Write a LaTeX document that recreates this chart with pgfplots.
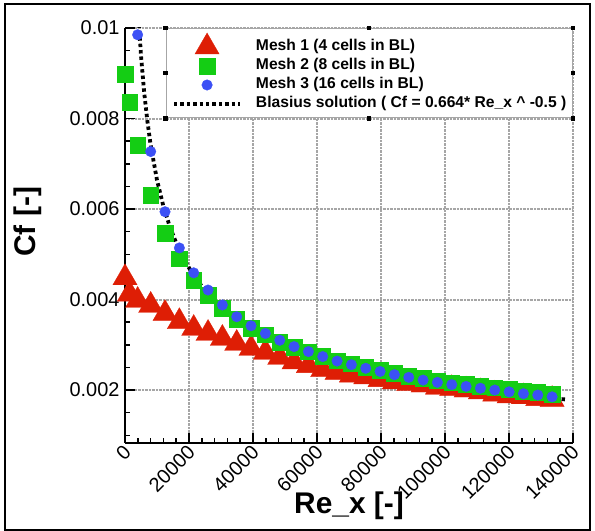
\documentclass[border=0pt]{standalone}
\usepackage{pgfplots}
\pgfplotsset{compat=1.18}
\usepackage{fontspec}
\setmainfont{Liberation Sans}
\definecolor{mred}{RGB}{222,30,5}
\definecolor{mgreen}{RGB}{20,205,20}
\definecolor{mblue}{RGB}{60,80,245}
\begin{document}
\begin{tikzpicture}[x=1bp,y=1bp]
\useasboundingbox (0,0) rectangle (595,531);
\draw[line width=1.5bp] (5,1) rectangle (590,527);
\begin{axis}[
  at={(125bp,88bp)}, anchor=south west,
  scale only axis, width=448bp, height=415bp,
  xmin=0, xmax=140000, ymin=0.00083, ymax=0.01,
  scaled x ticks=false, scaled y ticks=false,
  axis x line*=bottom, axis y line*=left,
  axis line style={-, line width=2.2bp},
  tick align=inside,
  xtick={0,20000,40000,60000,80000,100000,120000,140000},
  xticklabels={0,20000,40000,60000,80000,100000,120000,140000},
  minor x tick num=4,
  ytick={0.002,0.004,0.006,0.008,0.01},
  yticklabels={0.002,0.004,0.006,0.008,0.01},
  minor ytick={0.001,0.0015,0.0025,0.003,0.0035,0.0045,0.005,0.0055,0.0065,0.007,0.0075,0.0085,0.009,0.0095},
  major tick length=10bp, minor tick length=5bp,
  every tick/.style={black, line width=1.5bp},
  xmajorgrids, ymajorgrids,
  grid style={gray!70, line width=2bp, dash pattern=on 0.7bp off 0.7bp},
  /pgf/number format/assume math mode=true,
  yticklabel style={font=\fontsize{20}{24}\selectfont, xshift=-2bp},
  xticklabel style={font=\fontsize{20}{24}\selectfont, rotate=45, anchor=east, yshift=-6bp, xshift=1bp},
  xlabel={Re\_x [-]}, ylabel={Cf [-]},
  xlabel style={font=\fontsize{30}{34}\bfseries\selectfont, at={(axis description cs:0.5,-0.152)}, anchor=center},
  ylabel style={font=\fontsize{30}{34}\bfseries\selectfont, at={(axis description cs:-0.2165,0.533)}, anchor=center},
  legend style={name=leg, at={(rel axis cs:0.0908,1)}, anchor=north west,
    draw=gray!70, line width=1bp, fill=white,
    font=\fontsize{15.7}{18}\bfseries\selectfont,
    inner xsep=6bp, inner ysep=4.5bp, row sep=0bp, column sep=14bp,
    nodes={inner xsep=0bp, inner ysep=2bp, text height=11.5bp, text depth=3.5bp},
    cells={anchor=west}},
  legend image code/.code={\draw[mark repeat=2,mark phase=2,#1] plot coordinates {(0bp,0bp) (33bp,0bp) (66bp,0bp)};},
]
\addplot[only marks, mark=triangle*, mark size=14bp, color=mred, mark options={draw=mred, fill=mred, line width=0.3bp}] coordinates {
(0,0.00448) (1400,0.00412) (3950,0.00398) (8030,0.00387) (12510,0.00369) (16990,0.00351)
(21470,0.00336) (25950,0.00325) (30430,0.00314) (34910,0.00303) (39390,0.00292) (43870,0.00283)
(48350,0.00272) (52830,0.00262) (57310,0.00254) (61790,0.00245) (66270,0.00239) (70750,0.00233)
(75230,0.00229) (79710,0.00223) (84190,0.00218) (88670,0.00214) (93150,0.00211) (97630,0.00206)
(102110,0.00203) (106590,0.00200) (111070,0.00196) (115550,0.00191) (120030,0.00187) (124510,0.00185)
(128990,0.00181) (133470,0.00179)
};
\addlegendentry{Mesh 1 (4 cells in BL)}
\addplot[only marks, mark=square*, mark size=7.8bp, color=mgreen, mark options={draw=mgreen, fill=mgreen, line width=0.3bp}] coordinates {
(0,0.00898) (1400,0.00836) (3950,0.00741) (8030,0.00631) (12510,0.00547) (16990,0.00490)
(21470,0.00443) (25950,0.00410) (30430,0.00381) (34910,0.00357) (39390,0.00337) (43870,0.00322)
(48350,0.00306) (52830,0.00295) (57310,0.00285) (61790,0.00275) (66270,0.00265) (70750,0.00258)
(75230,0.00250) (79710,0.00244) (84190,0.00237) (88670,0.00231) (93150,0.00226) (97630,0.00221)
(102110,0.00216) (106590,0.00213) (111070,0.00209) (115550,0.00205) (120030,0.00202) (124510,0.00198)
(128990,0.00195) (133470,0.00191)
};
\addlegendentry{Mesh 2 (8 cells in BL)}
\addplot[only marks, mark=*, mark size=5.3bp, color=mblue, mark options={draw=mblue, fill=mblue, line width=0.3bp}] coordinates {
(3950,0.00985) (8030,0.00727) (12510,0.00594) (16990,0.00514)
(21470,0.00459) (25950,0.00421) (30430,0.00388) (34910,0.00362) (39390,0.00342) (43870,0.00325)
(48350,0.00310) (52830,0.00296) (57310,0.00285) (61790,0.00274) (66270,0.00264) (70750,0.00256)
(75230,0.00248) (79710,0.00241) (84190,0.00234) (88670,0.00228) (93150,0.00222) (97630,0.00217)
(102110,0.00212) (106590,0.00208) (111070,0.00204) (115550,0.00200) (120030,0.00196) (124510,0.00192)
(128990,0.00189) (133470,0.00185)
};
\addlegendentry{Mesh 3 (16 cells in BL)}
\addplot[black, line width=3.8bp, dash pattern=on 3.4bp off 3bp, mark=none] coordinates {
(4000,0.01050) (5000,0.00939) (6000,0.00857) (7000,0.00794) (8000,0.00742) (10000,0.00664)
(12000,0.00606) (14000,0.00561) (16000,0.00525) (18000,0.00495) (20000,0.00470) (24000,0.00429)
(28000,0.00397) (32000,0.00371) (36000,0.00350) (40000,0.00332) (45000,0.00313) (50000,0.00297)
(55000,0.00283) (60000,0.00271) (70000,0.00251) (80000,0.00235) (90000,0.00221) (100000,0.00210)
(110000,0.00200) (120000,0.00192) (130000,0.00184) (138000,0.00179)
};
\addlegendentry{Blasius solution ( Cf = 0.664* Re\_x \^{} -0.5 )}
\end{axis}
\foreach \a in {north west, north, north east, east, south east, south, south west, west}
  \fill[black] (leg.\a) ++(-2.2bp,-2.2bp) rectangle ++(4.4bp,4.4bp);
\end{tikzpicture}
\end{document}
